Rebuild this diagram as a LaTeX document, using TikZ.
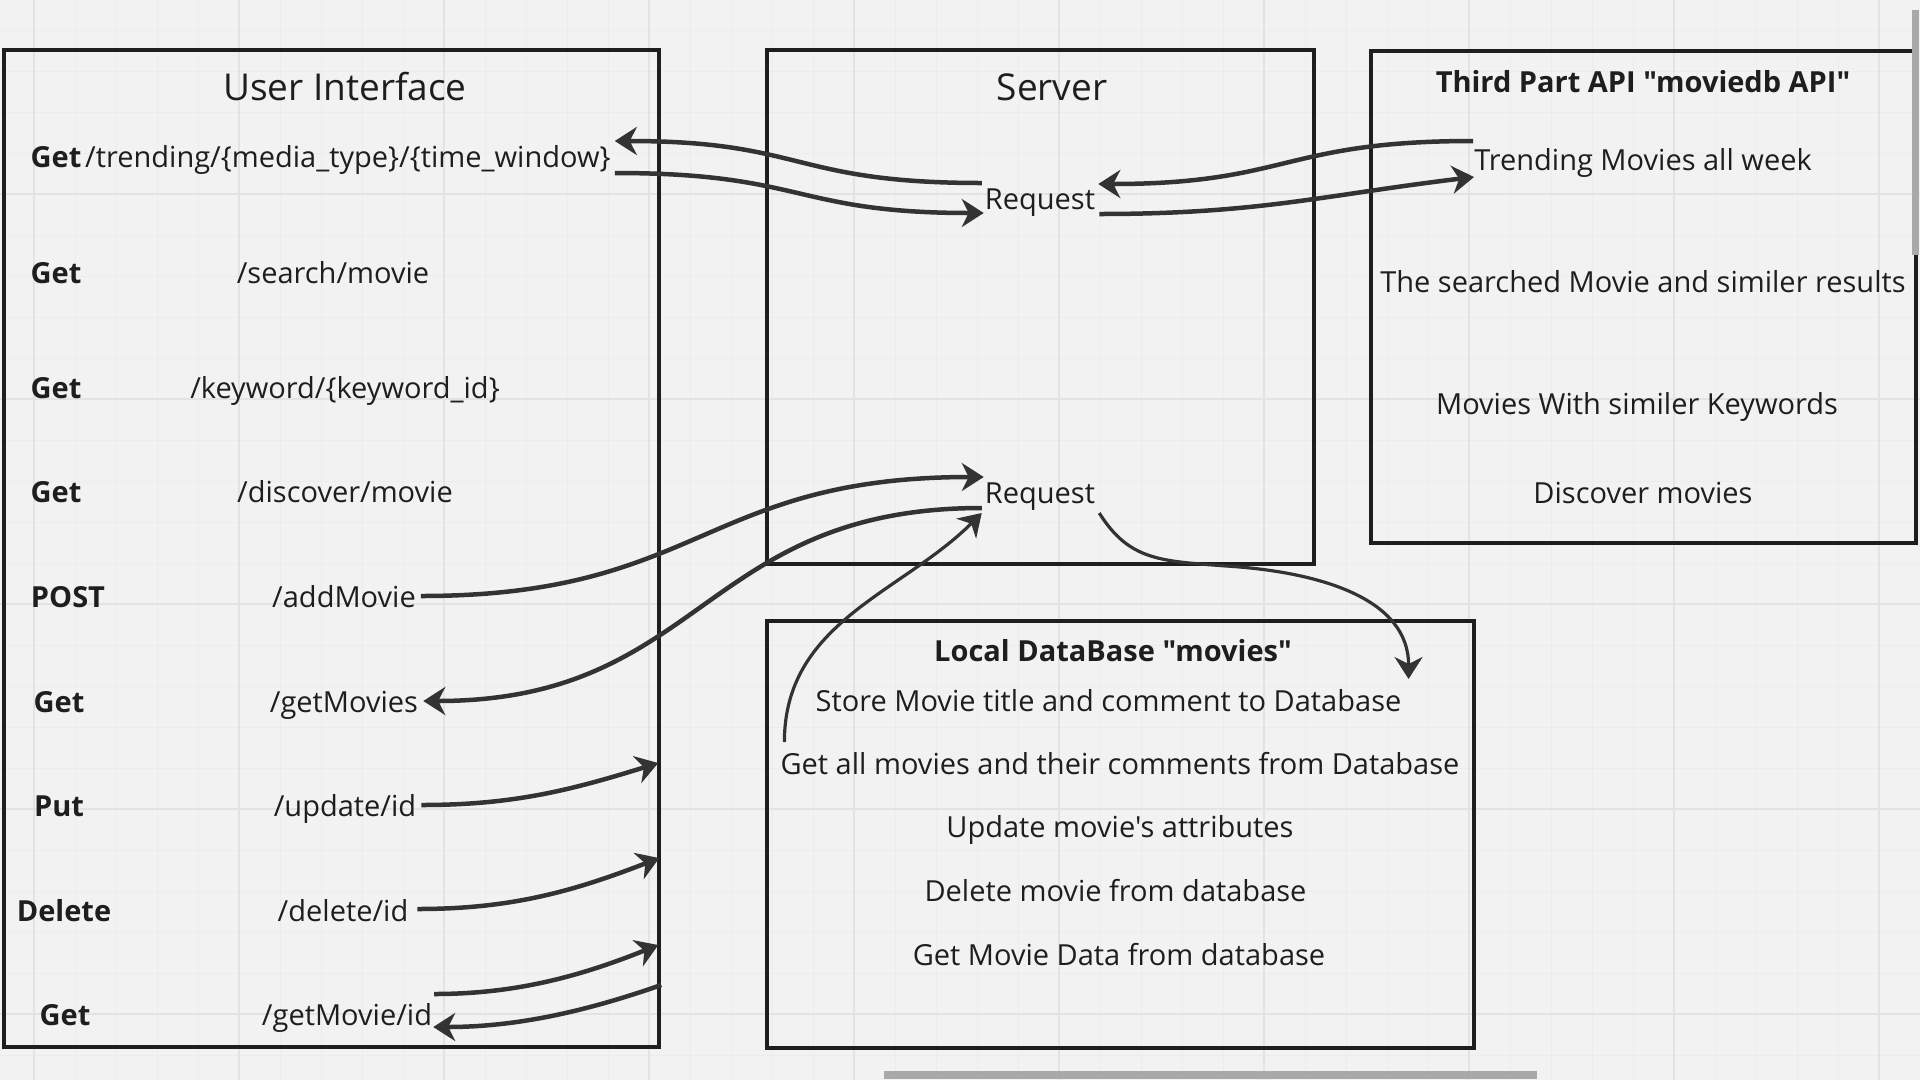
\documentclass[tikz,border=0pt]{standalone}
\usepackage{fontspec}
\setmainfont{Open Sans}[Ligatures=TeXOff]
\usetikzlibrary{arrows.meta,calc}
\definecolor{bg}{HTML}{F2F2F2}
\definecolor{gridminor}{HTML}{ECECEC}
\definecolor{gridmajor}{HTML}{E3E3E3}
\definecolor{ink}{HTML}{1E1E1E}
\definecolor{arrowc}{HTML}{333333}
\definecolor{scroll}{HTML}{A9A9A9}
\begin{document}
\begin{tikzpicture}[x=1pt,y=-1pt,
  panel/.style={draw=ink,line width=4.5pt,rectangle,inner sep=0pt},
  txt/.style={inner sep=0pt,text=ink,font=\fontsize{29}{34}\selectfont},
  lbl/.style={inner sep=0pt,text=ink,font=\fontsize{29}{34}\selectfont\bfseries},
  ttl/.style={inner sep=0pt,text=ink,font=\fontsize{37}{42}\selectfont},
  conn/.style={draw=arrowc,line width=4.5pt,-{Stealth[length=22pt,width=28pt,inset=7pt]}},
  thinconn/.style={draw=arrowc,line width=3.2pt,-{Stealth[length=22pt,width=28pt,inset=7pt]}}]
% background and grid
\fill[bg] (0,0) rectangle (1920,1080);
\useasboundingbox (0,0) rectangle (1920,1080);
\foreach \x in {34,75,...,1920} \draw[gridminor,line width=1pt] (\x,0) -- (\x,1080);
\foreach \y in {30,71,...,1080} \draw[gridminor,line width=1pt] (0,\y) -- (1920,\y);
\foreach \x in {34,239,...,1920} \draw[gridmajor,line width=1.6pt] (\x,0) -- (\x,1080);
\foreach \y in {194,399,...,1080} \draw[gridmajor,line width=1.6pt] (0,\y) -- (1920,\y);

% panels
\node[panel,minimum width=655pt,minimum height=997pt] (ui) at (331.5,548.5) {};
\node[panel,minimum width=547pt,minimum height=514pt] (server) at (1040.5,307) {};
\node[panel,minimum width=545pt,minimum height=492pt] (api) at (1643.5,297) {};
\node[panel,minimum width=707pt,minimum height=427pt] (db) at (1120.5,834.5) {};

% User interface
\node[ttl,anchor=base] (uititle) at (345,100) {User Interface};
\node[lbl,anchor=base] (m1) at (56,167) {Get};
\node[txt,anchor=base west] (p1) at (85,167) {/trending/\{media\_type\}/\{time\_window\}};
\node[lbl,anchor=base] (m2) at (56,283) {Get};
\node[txt,anchor=base] (p2) at (333,283) {/search/movie};
\node[lbl,anchor=base] (m3) at (56,398) {Get};
\node[txt,anchor=base] (p3) at (345,398) {/keyword/\{keyword\_id\}};
\node[lbl,anchor=base] (m4) at (56,502) {Get};
\node[txt,anchor=base] (p4) at (345,502) {/discover/movie};
\node[lbl,anchor=base] (m5) at (68,607) {POST};
\node[txt,anchor=base] (p5) at (344,607) {/addMovie};
\node[lbl,anchor=base] (m6) at (59,712) {Get};
\node[txt,anchor=base] (p6) at (344,712) {/getMovies};
\node[lbl,anchor=base] (m7) at (59,816) {Put};
\node[txt,anchor=base] (p7) at (345,816) {/update/id};
\node[lbl,anchor=base] (m8) at (64,921) {Delete};
\node[txt,anchor=base] (p8) at (343,921) {/delete/id};
\node[lbl,anchor=base] (m9) at (65,1025) {Get};
\node[txt,anchor=base] (p9) at (347,1025) {/getMovie/id};

% Server
\node[ttl,anchor=base] (srvtitle) at (1052,100) {Server};
\node[txt,anchor=base] (req1) at (1040,209) {Request};
\node[txt,anchor=base] (req2) at (1040,503) {Request};

% Third party API
\node[lbl,anchor=base] (apititle) at (1643,92) {Third Part API "moviedb API"};
\node[txt,anchor=base] (trend) at (1643,170) {Trending Movies all week};
\node[txt,anchor=base] (search) at (1643,292) {The searched Movie and similer results};
\node[txt,anchor=base] (kw) at (1637,414) {Movies With similer Keywords};
\node[txt,anchor=base] (disc) at (1643,503) {Discover movies};

% Local DB
\node[lbl,anchor=base] (dbtitle) at (1113,661) {Local DataBase "movies"};
\node[txt,anchor=base] (store) at (1108.5,711) {Store Movie title and comment to Database};
\node[txt,anchor=base] (getall) at (1120,774) {Get all movies and their comments from Database};
\node[txt,anchor=base] (upd) at (1120,837) {Update movie's attributes};
\node[txt,anchor=base] (del) at (1115.5,901) {Delete movie from database};
\node[txt,anchor=base] (getdata) at (1119,965) {Get Movie Data from database};

% connector end points
\coordinate (a1s) at ($(req1.base west)+(-3,-26)$);
\coordinate (a1e) at ($(p1.base east)+(4,-26)$);
\coordinate (a2s) at ($(p1.base east)+(4,6)$);
\coordinate (a2e) at ($(req1.base west)+(-1,4)$);
\coordinate (a3s) at ($(trend.base west)+(-1,-29)$);
\coordinate (a3e) at ($(req1.base east)+(3,-25)$);
\coordinate (a4s) at ($(req1.base east)+(4,5)$);
\coordinate (a4e) at ($(trend.base west)+(0,7)$);
\coordinate (a5s) at ($(p5.base east)+(5,-11)$);
\coordinate (a5e) at ($(req2.base west)+(-1,-26)$);
\coordinate (a6s) at ($(req2.base west)+(-3,5)$);
\coordinate (a6e) at ($(p6.base east)+(5,-11)$);
\coordinate (a7s) at ($(getall.base west)+(4,-32)$);
\coordinate (a7e) at ($(req2.base west)+(-3,10)$);
\coordinate (a8s) at ($(req2.base east)+(4,10)$);
\coordinate (a8m) at ($(a8s)+(127,53)$);
\coordinate (a8e) at ($(store.base east)+(7,-32)$);
\coordinate (a9s) at ($(p7.base east)+(5,-11)$);
\coordinate (a9e) at ($(ui.east)+(-3,214.5)$);
\coordinate (a10s) at ($(p8.base east)+(9,-12)$);
\coordinate (a10e) at ($(ui.east)+(-2,309.5)$);
\coordinate (a11s) at ($(p9.base east)+(2,-31)$);
\coordinate (a11e) at ($(ui.east)+(-3,396.5)$);
\coordinate (a12s) at ($(ui.east)+(0,436.5)$);
\coordinate (a12e) at ($(p9.base east)+(1,2)$);

% connectors
\draw[conn] (a1s) .. controls ($(a1s)+(-190,0)$) and ($(a1e)+(190,0)$) .. (a1e);
\draw[conn] (a2s) .. controls ($(a2s)+(190,0)$) and ($(a2e)+(-190,0)$) .. (a2e);
\draw[conn] (a3s) .. controls ($(a3s)+(-190,0)$) and ($(a3e)+(190,0)$) .. (a3e);
\draw[conn] (a4s) .. controls ($(a4s)+(160,0)$) and ($(a4e)+(-150,18)$) .. (a4e);
\draw[conn] (a5s) .. controls ($(a5s)+(280,0)$) and ($(a5e)+(-280,0)$) .. (a5e);
\draw[conn] (a6s) .. controls ($(a6s)+(-280,0)$) and ($(a6e)+(280,0)$) .. (a6e);
\draw[thinconn] (a7s) .. controls ($(a7s)+(0,-120)$) and ($(a7e)+(-80,80)$) .. (a7e);
\draw[thinconn] (a8s) .. controls ($(a8s)+(30,48)$) and ($(a8m)+(-65,-5)$) .. (a8m)
  .. controls ($(a8m)+(95,6)$) and ($(a8e)+(0,-80)$) .. (a8e);
\draw[conn] (a9s) .. controls ($(a9s)+(90,0)$) and ($(a9e)+(-90,28)$) .. (a9e);
\draw[conn] (a10s) .. controls ($(a10s)+(90,0)$) and ($(a10e)+(-90,35)$) .. (a10e);
\draw[conn] (a11s) .. controls ($(a11s)+(80,0)$) and ($(a11e)+(-80,32)$) .. (a11e);
\draw[conn] (a12s) .. controls ($(a12s)+(-80,28)$) and ($(a12e)+(80,0)$) .. (a12e);

% scrollbars
\fill[scroll] (1912,10) rectangle (1919,255);
\fill[scroll] (884,1071) rectangle (1537,1079);
\end{tikzpicture}
\end{document}
